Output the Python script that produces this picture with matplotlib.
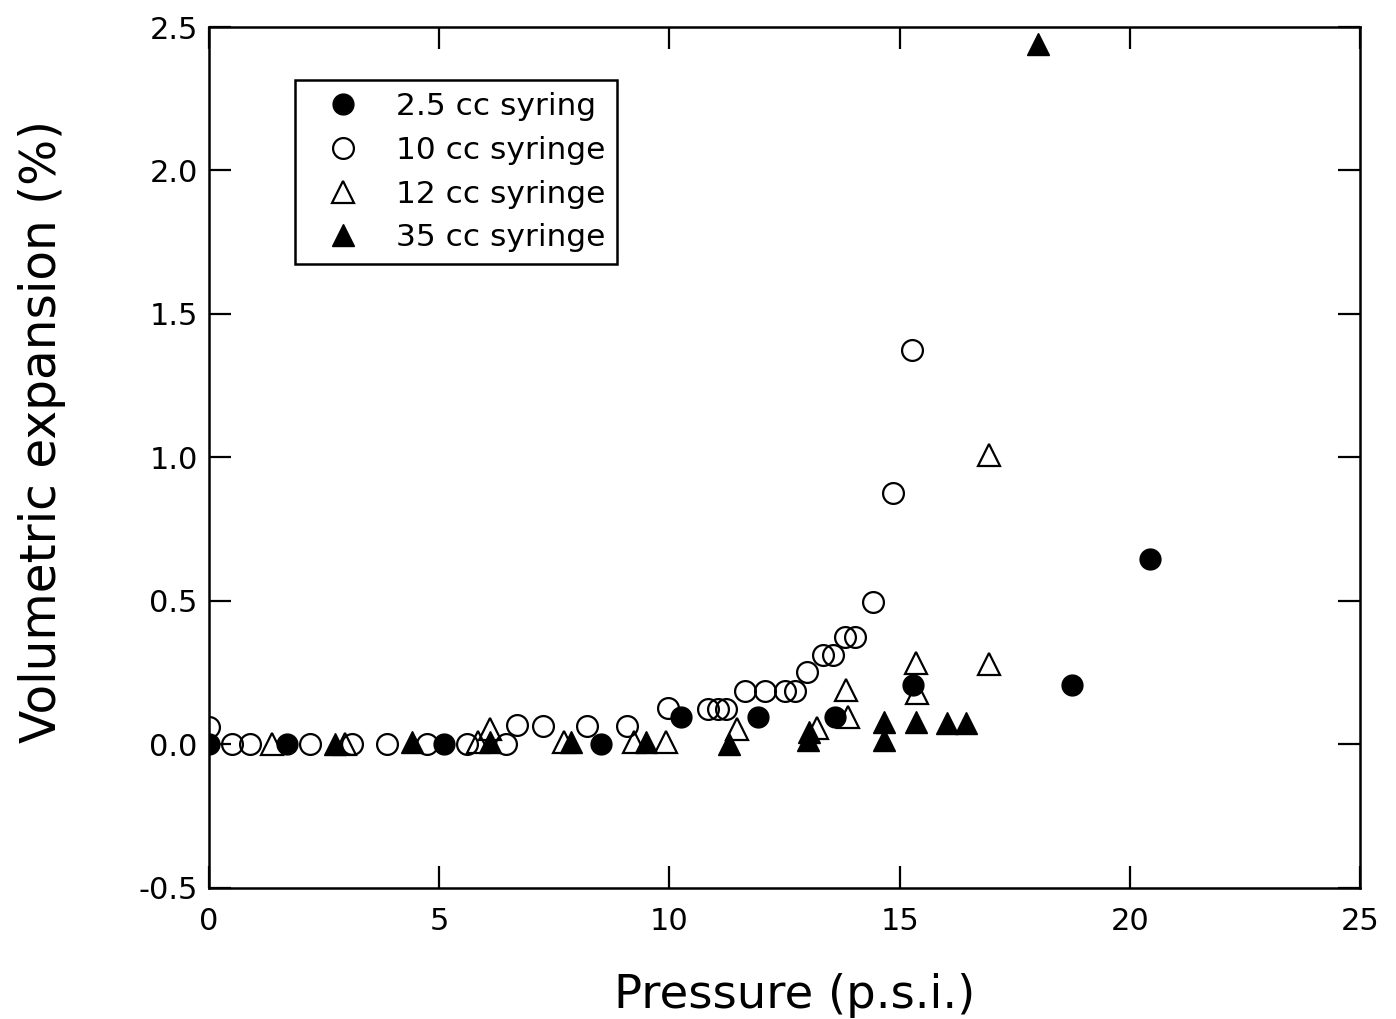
import matplotlib
matplotlib.use("Agg")
import matplotlib.pyplot as plt

# ---- data ----
x_25cc = [0.0, 1.69, 5.10, 8.52, 10.26, 11.93, 13.60, 15.30, 18.75, 20.44]
y_25cc = [0.0, 0.0, 0.0, 0.0, 0.095, 0.095, 0.097, 0.206, 0.206, 0.646]

x_10cc = [0.0, 0.50, 0.89, 2.19, 3.10, 3.86, 4.73, 5.60, 6.46, 6.68, 7.25,
          8.20, 9.07, 9.96, 10.83, 11.05, 11.24, 11.64, 12.07, 12.51, 12.72,
          12.98, 13.34, 13.56, 13.82, 14.03, 14.43, 14.86, 15.27]
y_10cc = [0.061, 0.0, 0.0, 0.0, 0.0, 0.0, 0.0, 0.0, 0.0, 0.068, 0.066,
          0.066, 0.065, 0.126, 0.124, 0.124, 0.124, 0.186, 0.186, 0.186, 0.186,
          0.251, 0.313, 0.313, 0.375, 0.375, 0.497, 0.876, 1.373]

x_12cc = [1.37, 2.95, 5.84, 6.10, 7.72, 9.24, 9.93, 11.47, 13.20, 13.84,
          13.88, 15.36, 15.38, 16.94, 16.94]
y_12cc = [0.0, 0.0, 0.01, 0.054, 0.01, 0.01, 0.01, 0.054, 0.059, 0.19,
          0.097, 0.283, 0.178, 0.281, 1.009]

x_35cc = [2.73, 4.40, 6.10, 7.87, 9.50, 11.30, 13.04, 13.00, 14.66, 14.66,
          15.36, 16.03, 16.44, 18.00]
y_35cc = [0.0, 0.01, 0.01, 0.01, 0.01, 0.0, 0.042, 0.015, 0.078, 0.015,
          0.077, 0.076, 0.075, 2.44]

labels = ["2.5 cc syring", "10 cc syringe", "12 cc syringe", "35 cc syringe"]
x_ticks = [0, 5, 10, 15, 20, 25]
y_ticks = [-0.5, 0.0, 0.5, 1.0, 1.5, 2.0, 2.5]

plt.rcParams['font.family'] = ['DejaVu Sans']

fig = plt.figure(figsize=(13.96, 10.19), dpi=100)
ax = fig.add_axes([0.1497, 0.1286, 0.8245, 0.8449])

ms_c = 15
ms_t = 15.5
mew = 1.6
ax.plot(x_25cc, y_25cc, 'o', ls='none', color='black', ms=ms_c, label=labels[0], zorder=4)
ax.plot(x_10cc, y_10cc, 'o', ls='none', mfc='none', mec='black', mew=mew, ms=ms_c, label=labels[1], zorder=3)
ax.plot(x_12cc, y_12cc, '^', ls='none', mfc='none', mec='black', mew=mew, ms=ms_t, label=labels[2], zorder=3)
ax.plot(x_35cc, y_35cc, '^', ls='none', color='black', ms=ms_t, label=labels[3], zorder=4)

ax.set_xlim(0, 25)
ax.set_ylim(-0.5, 2.5)
ax.set_xticks(x_ticks)
ax.set_xticklabels([str(t) for t in x_ticks])
ax.set_yticks(y_ticks)
ax.set_yticklabels(["%.1f" % t for t in y_ticks])

ax.tick_params(direction='in', length=16, width=1.6, labelsize=22,
               top=True, right=True)
ax.tick_params(axis='x', pad=14)
ax.tick_params(axis='y', pad=8)
for s in ax.spines.values():
    s.set_linewidth(1.8)

ax.set_xlabel("Pressure (p.s.i.)", fontsize=33.5)
ax.xaxis.set_label_coords(0.509, -0.099)
ax.set_ylabel("Volumetric expansion (%)", fontsize=35)
ax.yaxis.set_label_coords(-0.124, 0.53)

leg = ax.legend(loc='upper left', bbox_to_anchor=(0.075, 0.938), borderaxespad=0,
                fontsize=22.5, frameon=True, fancybox=False, handletextpad=0.55,
                labelspacing=0.47, borderpad=0.38, handlelength=2.3)
leg.get_frame().set_edgecolor('black')
leg.get_frame().set_linewidth(1.8)
leg.get_frame().set_alpha(1)

fig.savefig("out.png", dpi=100)
